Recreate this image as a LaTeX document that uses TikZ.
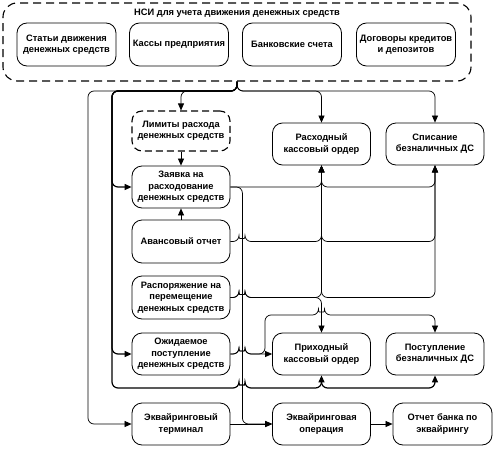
\documentclass[tikz,border=0pt]{standalone}
\usepackage{fontspec}
\setmainfont{Liberation Sans}
\usetikzlibrary{arrows.meta,calc}
\begin{document}
\begin{tikzpicture}[x=1pt,y=-1pt,
  txt/.style={font=\fontsize{9.3}{11.3}\selectfont\bfseries},
  box/.style={txt,draw,line width=0.8pt,rounded corners=10pt,minimum width=98pt,minimum height=42pt,align=center,inner sep=1pt},
  dbox/.style={box,line width=1.1pt,dash pattern=on 7pt off 4pt},
  conn/.style={line width=0.7pt,rounded corners=6pt},
  arr/.style={conn,-{Triangle[length=7pt,width=6pt]}},
  tarr/.style={arr,line width=1.2pt,-{Triangle[length=7pt,width=6pt]}},
]
\useasboundingbox (0,0) rectangle (496,450);
% outer NSI box
\node[draw,line width=1.1pt,dash pattern=on 8pt off 5pt,rounded corners=14pt,minimum width=468pt,minimum height=78pt] (nsi) at (237,42) {};
\node[txt] (title) at (237,13) {НСИ для учета движения денежных средств};
\node[box,minimum width=99pt,minimum height=43pt] (st) at (66.5,44.5) {Статьи движения\\денежных средств};
\node[box,minimum width=99pt,minimum height=43pt] (ks) at (179,44.5) {Кассы предприятия};
\node[box,minimum width=99pt,minimum height=43pt] (bk) at (292,44.5) {Банковские счета};
\node[box,minimum width=99pt,minimum height=43pt] (dg) at (406,44.5) {Договоры кредитов\\и депозитов};
% middle column
\node[dbox,minimum height=40pt] (lim) at (181,131) {Лимиты расхода\\денежных средств};
\node[box] (zay) at (181,187) {Заявка на\\расходование\\денежных средств};
\node[box,minimum height=43pt] (av) at (181,241.5) {Авансовый отчет};
\node[box,minimum height=43pt] (rsp) at (181,297.5) {Распоряжение на\\перемещение\\денежных средств};
\node[box] (ozh) at (181,354) {Ожидаемое\\поступление\\денежных средств};
\node[box] (term) at (181,424) {Эквайринговый\\терминал};
% right columns
\node[box] (rasx) at (321.5,144) {Расходный\\кассовый ордер};
\node[box] (spis) at (435,144) {Списание\\безналичных ДС};
\node[box] (prix) at (321.5,354) {Приходный\\кассовый ордер};
\node[box] (post) at (435,354) {Поступление\\безналичных ДС};
\node[box] (ekop) at (321.5,424) {Эквайринговая\\операция};
\node[box,minimum width=99pt] (otch) at (442.5,424) {Отчет банка по\\эквайрингу};
% junction coordinates
\coordinate (tj) at (237,91);
\coordinate (tl) at (112,91);
\coordinate (gl) at (88,91);
\coordinate (bj) at (112,388);
% top distribution
\draw[arr] (nsi.south) -- (tj) -| (lim.north);
\draw[arr] (nsi.south) -- (tj) -| (rasx.north);
\draw[arr] (nsi.south) -- (tj) -| (spis.north);
\draw[arr] (nsi.south) -- (tj) -- (gl) |- (term.west);
\draw[tarr] (nsi.south) -- (tj) -- (tl) |- (zay.west);
\draw[tarr] (nsi.south) -- (tj) -- (tl) |- (ozh.west);
\draw[tarr] (nsi.south) -- (tj) -- (tl) -- (bj) -- (239,388) arc[start angle=180,end angle=0,radius=3pt] -| (prix.south);
\draw[tarr] (321.5,381) |- (post.south |- bj) -- (post.south);
% simple vertical links
\draw[arr] (lim.south) -- (zay.north);
\draw[arr] (av.north) -- (zay.south);
% Zayavka
\draw[arr] (zay.east) -| (rasx.south);
\draw[arr] (321.5,179) |- (spis.south |- zay.east) -- (spis.south);
\draw[arr] (zay.east) -- ++(12,0) |- (ekop.west);
% Avansovy
\draw[arr] (av.east) -- (239,241.5) arc[start angle=180,end angle=0,radius=3pt] -| (rasx.south);
\draw[arr] (321.5,233.5) |- (spis.south |- av.east) -- (spis.south);
% Rasporyazhenie
\draw[arr] (rsp.east) -- (239,297.5) arc[start angle=180,end angle=0,radius=3pt] -| (rasx.south);
\draw[arr] (321.5,289.5) |- (spis.south |- rsp.east) -- (spis.south);
\draw[arr] (rsp.east) -- (239,297.5) arc[start angle=180,end angle=0,radius=3pt] -| (prix.north);
% Ozhidaemoe
\draw[arr] (ozh.east) -- (239,354) arc[start angle=180,end angle=0,radius=3pt] -- (prix.west);
\draw[arr] (ozh.east) -- (239,354) arc[start angle=180,end angle=0,radius=3pt] -- (265,354) -- (265,315) -- (318.5,315) arc[start angle=180,end angle=0,radius=3pt] -| (post.north);
% acquiring
\draw[arr] (term.east) -- (ekop.west);
\draw[arr] (ekop.east) -- (otch.west);
\end{tikzpicture}
\end{document}
